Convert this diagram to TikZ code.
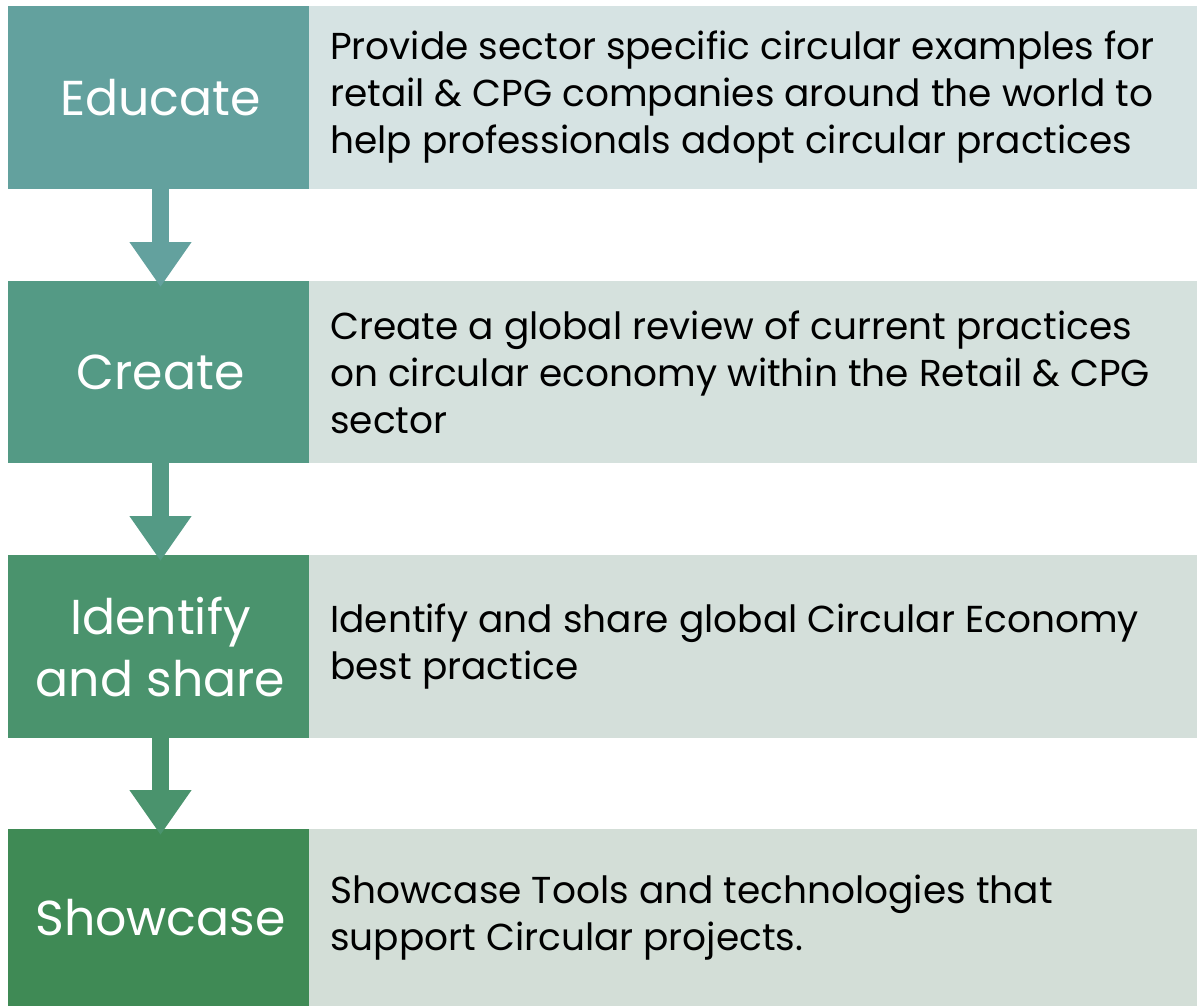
\documentclass[tikz,border=0pt]{standalone}
\usepackage{fontspec}
\setmainfont{Poppins}
\usetikzlibrary{arrows.meta}
\definecolor{cA}{HTML}{63A19E}
\definecolor{cB}{HTML}{549A85}
\definecolor{cC}{HTML}{4A936D}
\definecolor{cD}{HTML}{3F8A55}
\definecolor{pA}{HTML}{D6E3E3}
\definecolor{pB}{HTML}{D5E1DD}
\definecolor{pC}{HTML}{D4DFDA}
\definecolor{pD}{HTML}{D3DED7}
\tikzset{
  x=1pt,y=1pt,
  stepbox/.style={anchor=north west, minimum width=301pt, inner sep=0pt, outer sep=0pt},
  title/.style={text=white, align=center, font=\fontsize{49}{62}\selectfont},
  panel/.style={anchor=north west, minimum width=888pt, inner sep=0pt, outer sep=0pt},
  desc/.style={anchor=west, align=left, inner sep=0pt, font=\fontsize{37.5}{47}\selectfont},
  flow/.style={line width=17pt, -{Triangle[width=59pt,length=45pt]}, shorten >=-6pt}
}
\begin{document}
\begin{tikzpicture}
\useasboundingbox (0,0) rectangle (1197,-1006);
% panels
\node[panel, fill=pA, minimum height=183pt] (p1) at (309,-6) {};
\node[panel, fill=pB, minimum height=182pt] (p2) at (309,-281) {};
\node[panel, fill=pC, minimum height=183pt] (p3) at (309,-555) {};
\node[panel, fill=pD, minimum height=177pt] (p4) at (309,-829) {};
% step boxes
\node[stepbox, fill=cA, minimum height=183pt] (b1) at (8,-6) {};
\node[stepbox, fill=cB, minimum height=182pt] (b2) at (8,-281) {};
\node[stepbox, fill=cC, minimum height=183pt] (b3) at (8,-555) {};
\node[stepbox, fill=cD, minimum height=177pt] (b4) at (8,-829) {};
\node[title] (t1) at ([xshift=2pt]b1.center) {Educate};
\node[title] (t2) at ([xshift=2pt]b2.center) {Create};
\node[title] (t3) at ([xshift=2pt]b3.center) {Identify\\and share};
\node[title] (t4) at ([xshift=2pt]b4.center) {Showcase};
% descriptions
\node[desc] (d1) at ([xshift=21pt]p1.west) {Provide sector specific circular examples for\\retail \& CPG companies around the world to\\help professionals adopt circular practices};
\node[desc] (d2) at ([xshift=21pt]p2.west) {Create a global review of current practices\\on circular economy within the Retail \& CPG\\sector};
\node[desc] (d3) at ([xshift=21pt]p3.west) {Identify and share global Circular Economy\\best practice};
\node[desc] (d4) at ([xshift=21pt]p4.west) {Showcase Tools and technologies that\\support Circular projects.};
% arrows
\draw[flow, cA] ([xshift=2pt]b1.south) -- ([xshift=2pt]b2.north);
\draw[flow, cB] ([xshift=2pt]b2.south) -- ([xshift=2pt]b3.north);
\draw[flow, cC] ([xshift=2pt]b3.south) -- ([xshift=2pt]b4.north);
\end{tikzpicture}
\end{document}
